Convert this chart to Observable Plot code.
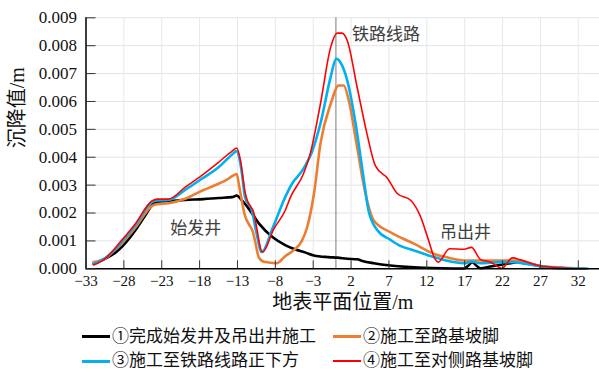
<!DOCTYPE html>
<html>
<head>
<meta charset="utf-8">
<script src="https://cdn.jsdelivr.net/npm/d3@7"></script>
<script src="https://cdn.jsdelivr.net/npm/@observablehq/plot@0.6"></script>
<style>
  body { margin: 0; background: #fff; overflow: hidden; }
  #legend { position: relative; width: 599px; height: 51px; font-family: "Liberation Serif", "Noto Sans CJK SC"; font-size: 17px; color: #111; }
  .item { position: absolute; display: flex; align-items: center; height: 16px; line-height: 16px; white-space: nowrap; }
  .sw { display: inline-block; height: 3px; margin-right: 2px; }
</style>
</head>
<body>
<div id="chart"></div>
<div id="legend"></div>
<script>
// ---- data ----
const xTicks = [-33, -28, -23, -18, -13, -8, -3, 2, 7, 12, 17, 22, 27, 32];
const yTicks = [0, 0.001, 0.002, 0.003, 0.004, 0.005, 0.006, 0.007, 0.008, 0.009];
const railX = [0];

const seriesNames = ["①完成始发井及吊出井施工", "②施工至路基坡脚", "③施工至铁路线路正下方", "④施工至对侧路基坡脚"];
const seriesColors = ["#000000", "#ED7D31", "#00B0F0", "#FF0000"];

const s1 = [[-32.0,0.00018],[-30.5,0.00036],[-29,0.0006],[-28.1,0.00083],[-26.5,0.00137],[-25.2,0.0019],[-24.1,0.00233],[-23.6,0.00241],[-22,0.00243],[-19.9,0.00247],[-17.5,0.0025],[-15.5,0.00254],[-13.7,0.00257],[-13.1,0.00263],[-12.4,0.00245],[-11.5,0.00215],[-10.1,0.0016],[-8.3,0.00112],[-6.7,0.00085],[-5.6,0.00072],[-4,0.00058],[-2.9,0.00048],[-1,0.00042],[0.2,0.0004],[1.5,0.00036],[2.8,0.00034],[3.5,0.00028],[5.0,0.0002],[7.2,0.00012],[9.4,0.00007],[11.6,0.00004],[14,0.00002],[16.9,0.00001],[17.5,0.00012],[18.0,0.00024],[18.6,0.0001],[19.1,0.00002],[20.4,0.00008],[22.6,0.00018],[24.0,0.00024],[25.7,0.00018],[27.5,0.00006],[30,0.00002],[32.8,0]];

const s2 = [[-32.0,0.00024],[-30.5,0.00036],[-29.5,0.0006],[-28.3,0.0009],[-26.5,0.00147],[-24.3,0.00225],[-23.6,0.00232],[-22.1,0.00235],[-19.9,0.00251],[-17.7,0.0028],[-15.5,0.00305],[-14.5,0.00318],[-13.7,0.00332],[-13.1,0.0034],[-12.8,0.003],[-12.0,0.0019],[-11.5,0.0016],[-11.0,0.00135],[-10.6,0.0009],[-10.2,0.00042],[-9.5,0.00025],[-7.8,0.0002],[-6.7,0.00045],[-5.6,0.00066],[-4.5,0.001],[-3.8,0.00149],[-2.9,0.00269],[-2.05,0.00448],[-0.7,0.00591],[0.37,0.00657],[1.03,0.00657],[1.7,0.00603],[2.8,0.00436],[3.9,0.00269],[5.0,0.00173],[7.2,0.00131],[10.3,0.0009],[12.9,0.00054],[14.5,0.00042],[16.9,0.0003],[21.8,0.0003],[23.5,0.0003],[25.5,0.00022],[26.5,0.00012],[30.3,0.00004],[33.2,0]];

const s3 = [[-32.0,0.00018],[-30.5,0.00038],[-28.3,0.00096],[-26.5,0.00155],[-24.3,0.00239],[-23.6,0.00245],[-22.1,0.00247],[-19.9,0.00283],[-17.7,0.00323],[-15.5,0.00364],[-13.7,0.0041],[-13.1,0.00422],[-12.7,0.0039],[-12.4,0.0034],[-12.0,0.00257],[-11.1,0.00209],[-10.5,0.0013],[-9.8,0.0006],[-8.3,0.0015],[-6.7,0.00257],[-5.8,0.00305],[-4.3,0.00358],[-3.1,0.00424],[-2.05,0.0052],[-0.7,0.00687],[0.03,0.00753],[0.6,0.0074],[1.5,0.00675],[2.6,0.0052],[3.7,0.00316],[4.3,0.00209],[5.5,0.00137],[7.2,0.00104],[8.5,0.00082],[10.3,0.00066],[12.9,0.00042],[14.5,0.0003],[16.9,0.0002],[18,0.00026],[19,0.0002],[21.8,0.00024],[23.5,0.00024],[25,0.00018],[26.8,0.0001],[30,0.00003],[33.2,0]];

const s4 = [[-32.0,0.00014],[-30.5,0.00036],[-28.3,0.00102],[-26.5,0.00161],[-24.3,0.00243],[-23.6,0.0025],[-22.1,0.0025],[-19.9,0.00293],[-17.7,0.00335],[-15.5,0.00382],[-13.7,0.00422],[-13.1,0.00433],[-12.6,0.00388],[-12.0,0.00275],[-11.7,0.00245],[-10.9,0.00205],[-9.7,0.0006],[-8.2,0.00143],[-6.7,0.00209],[-6.0,0.00257],[-4.3,0.0034],[-3.4,0.00412],[-2.05,0.00591],[-0.7,0.00794],[0.16,0.00845],[0.8,0.00845],[1.5,0.00818],[2.8,0.00651],[4.1,0.00484],[5.2,0.0037],[6.8,0.00325],[8.1,0.0027],[9.9,0.00245],[11.2,0.00185],[12.2,0.00105],[13.0,0.0004],[13.5,0.00024],[15.0,0.00072],[16.9,0.0007],[17.9,0.00077],[19.1,0.00033],[20.4,0.00024],[21.9,0.00002],[23.3,0.00039],[24.4,0.00032],[26.7,0.00012],[30,0.00003],[32.8,0]];

const notes = [
  {x: -18.5, y: 0.00143, text: "始发井"},
  {x: 17.1, y: 0.00129, text: "吊出井"},
  {x: 6.6, y: 0.0084, text: "铁路线路"}
];

const xTitle = "地表平面位置/m";
const yTitle = "沉降值/m";

// ---- chart ----
const serifFont = "'Liberation Serif', 'Noto Sans CJK SC'";
const cjkFont = "'Noto Sans CJK SC', sans-serif";
const fmtX = d => d < 0 ? "\u2212" + Math.abs(d) : String(d);
const fmtY = d3.format(".3f");
const series = [s1, s2, s3, s4];
const widths = [2.6, 2.6, 2.6, 1.6];

const chart = Plot.plot({
  width: 599,
  height: 320,
  marginLeft: 85.5,
  marginRight: 0,
  marginTop: 17.3,
  marginBottom: 51.7,
  x: {domain: [-33, 34.8]},
  y: {domain: [0, 0.009]},
  style: {background: "#fff", overflow: "visible"},
  marks: [
    Plot.gridY({ticks: yTicks, stroke: "#e1e3e8", strokeOpacity: 1}),
    Plot.gridX({ticks: xTicks, stroke: "#e6e8f0", strokeOpacity: 1}),
    Plot.ruleX(railX, {stroke: "#7a7a7a", strokeWidth: 1}),
    ...series.map((s, i) => Plot.line(s, {
      x: d => d[0], y: d => d[1],
      stroke: seriesColors[i], strokeWidth: widths[i], curve: "monotone-x",
      strokeLinejoin: "round", strokeLinecap: "round"
    })),
    Plot.text(notes, {x: "x", y: "y", text: "text", fontSize: 17, fill: "#404040", className: "cjk"}),
    Plot.ruleY([0], {stroke: "#000", strokeWidth: 1.5}),
    Plot.ruleX([-33], {stroke: "#000", strokeWidth: 1.5}),
    // inward tick marks
    Plot.axisY({ticks: yTicks, tickSize: 10, dx: 10, tickFormat: () => "", label: null, stroke: "#333"}),
    Plot.axisX({ticks: xTicks, tickSize: 8, dy: -8, tickFormat: () => "", label: null, stroke: "#333"}),
    // tick labels
    Plot.axisY({ticks: yTicks, tickSize: 0, tickPadding: 9, tickFormat: fmtY, label: null, fontSize: 17, fill: "#111"}),
    Plot.axisX({ticks: xTicks, tickSize: 0, tickPadding: 7, tickFormat: fmtX, label: null, fontSize: 15, fill: "#111"}),
    // axis titles
    Plot.text([xTitle], {text: d => d, frameAnchor: "bottom", dy: 40, fontSize: 20, fill: "#111"}),
    Plot.text([yTitle], {text: d => d, frameAnchor: "left", dx: -68, dy: 5, rotate: -90, fontSize: 20, fill: "#111"})
  ]
});
// force fonts with inline styles
d3.select(chart).selectAll("text").style("font-family", serifFont);
d3.select(chart).selectAll(".cjk text, text.cjk").style("font-family", cjkFont);
document.getElementById("chart").appendChild(chart);

// ---- legend (HTML below the SVG) ----
const legend = document.getElementById("legend");
const pos = [[82, 8.7], [333, 8.7], [82, 33], [333, 33]];
seriesNames.forEach((name, i) => {
  const it = document.createElement("div");
  it.className = "item";
  it.style.left = pos[i][0] + "px";
  it.style.top = pos[i][1] + "px";
  const sw = document.createElement("span");
  sw.className = "sw";
  sw.style.width = "28px";
  sw.style.background = seriesColors[i];
  sw.style.height = (i === 3 ? 2 : 3) + "px";
  const tx = document.createElement("span");
  tx.textContent = name;
  it.appendChild(sw);
  it.appendChild(tx);
  legend.appendChild(it);
});
</script>
</body>
</html>
